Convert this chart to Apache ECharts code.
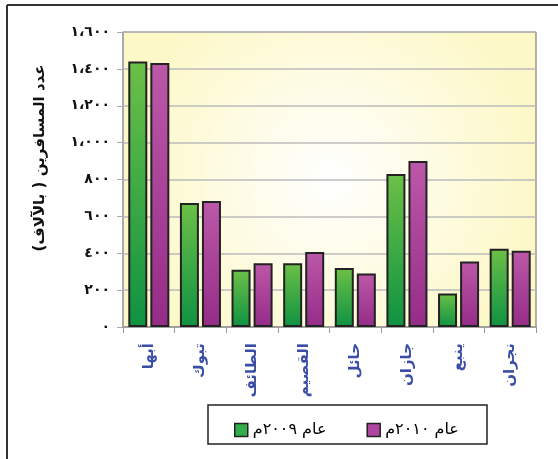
<!DOCTYPE html>
<html>
<head>
<meta charset="utf-8">
<script src="https://cdn.jsdelivr.net/npm/echarts@6/dist/echarts.min.js"></script>
<style>
html,body{margin:0;padding:0;background:#fff;}
#chart{width:558px;height:459px;direction:rtl;}
</style>
</head>
<body>
<div id="chart"></div>
<script>
const categories = ['أبها','تبوك','الطائف','القصيم','حائل','جازان','ينبع','نجران'];
const series2009 = [1440, 673, 311, 346, 320, 830, 182, 425];
const series2010 = [1432, 684, 346, 407, 290, 900, 355, 414];
const seriesNames = ['عام ٢٠٠٩م', 'عام ٢٠١٠م'];
const yTickLabels = ['٠','٢٠٠','٤٠٠','٦٠٠','٨٠٠','١،٠٠٠','١،٢٠٠','١،٤٠٠','١،٦٠٠'];
const yAxisTitle = 'عدد المسافرين ( بالآلاف)';

const FONT = 'DejaVu Sans';
const chart = echarts.init(document.getElementById('chart'), null, {renderer:'canvas'});
const grad = (a,b)=> new echarts.graphic.LinearGradient(0,0,0,1,[{offset:0,color:a},{offset:1,color:b}]);

chart.setOption({
  animation:false,
  textStyle:{fontFamily:FONT},
  grid:{left:123,right:22,top:32,bottom:132,show:true,borderColor:'#666',borderWidth:1,
    backgroundColor:new echarts.graphic.RadialGradient(0.5,0.5,0.7,[{offset:0,color:'#ffffff'},{offset:1,color:'#fdf8c8'}])},
  legend:{
    left:229, top:417, itemWidth:13, itemHeight:13, itemGap:40,
    textStyle:{fontFamily:FONT,fontSize:16,color:'#000'},
    data:[
      {name:seriesNames[0], icon:'rect', itemStyle:{color:'#2fae4a',borderColor:'#222',borderWidth:1.5}},
      {name:seriesNames[1], icon:'rect', itemStyle:{color:'#b045a0',borderColor:'#222',borderWidth:1.5}}
    ]
  },
  xAxis:{
    type:'category', data:categories,
    axisLine:{lineStyle:{color:'#999',width:1.5}},
    axisTick:{show:true,length:6,lineStyle:{color:'#999'}},
    axisLabel:{rotate:90,margin:16,color:'#3a4ea6',fontSize:15,fontWeight:'bold',fontFamily:FONT}
  },
  yAxis:{
    type:'value', min:0, max:1600, interval:200,
    axisLine:{show:true,lineStyle:{color:'#aaa',width:1.5}},
    axisTick:{show:true,length:6,lineStyle:{color:'#aaa'}},
    splitLine:{lineStyle:{color:'#bbb',width:1.5}},
    axisLabel:{margin:13,color:'#111',fontSize:14,fontWeight:'bold',fontFamily:FONT,
      formatter:(v)=>yTickLabels[Math.round(v/200)]}
  },
  series:[
    {name:seriesNames[0], type:'bar', data:series2009, barWidth:19, barGap:'16%',
     itemStyle:{color:grad('#6cc047','#0f9242'),borderColor:'#222',borderWidth:2}},
    {name:seriesNames[1], type:'bar', data:series2010, barWidth:19, barGap:'16%',
     itemStyle:{color:grad('#bc58a8','#952c88'),borderColor:'#222',borderWidth:2}}
  ],
  graphic:[
    {type:'line',shape:{x1:7,y1:5,x2:558,y2:5},style:{stroke:'#333',lineWidth:2}},
    {type:'line',shape:{x1:7,y1:5,x2:7,y2:459},style:{stroke:'#333',lineWidth:2}},
    {type:'rect',shape:{x:208,y:405,width:279,height:39},style:{fill:'none',stroke:'#222',lineWidth:1.5}},
    {type:'text',x:40,y:158,rotation:Math.PI/2,
     style:{text:yAxisTitle,fontFamily:FONT,fontSize:15,fontWeight:'bold',fill:'#111',align:'center',verticalAlign:'middle'}}
  ]
});
</script>
</body>
</html>
